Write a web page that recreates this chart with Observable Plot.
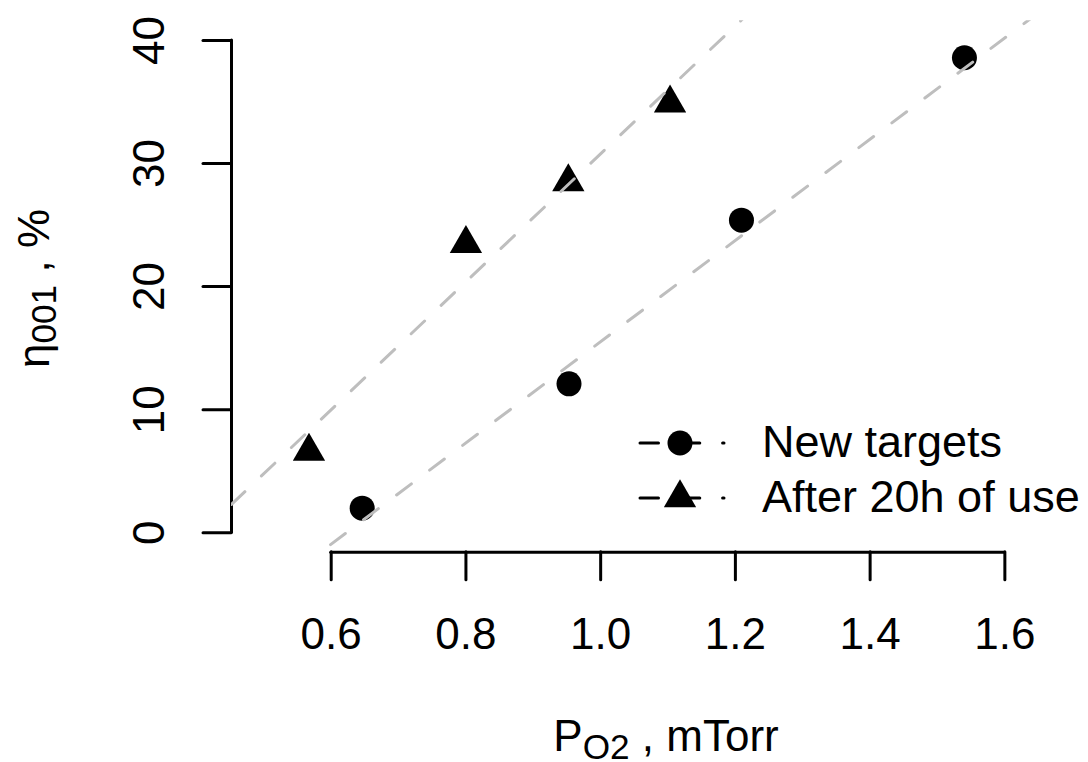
<!DOCTYPE html>
<html><head><meta charset="utf-8">
<script src="https://cdn.jsdelivr.net/npm/d3@7"></script>
<script src="https://cdn.jsdelivr.net/npm/@observablehq/plot@0.6"></script>
<style>html,body{margin:0;padding:0;background:#fff} svg{display:block}</style>
</head><body><div id="chart"></div>
<script>
// ---- data ----
const newX = [0.646, 0.953, 1.209, 1.540];
const newY = [2.0, 12.1, 25.4, 38.6];
const usedX = [0.567, 0.800, 0.952, 1.103];
const usedY = [6.6, 23.5, 28.5, 34.9];
const fitNew = [-25.6, 41.13];   // intercept, slope
const fitUsed = [-21.2, 52.0];
const xTicks = [0.6, 0.8, 1.0, 1.2, 1.4, 1.6];
const xTickLabels = ["0.6", "0.8", "1.0", "1.2", "1.4", "1.6"];
const yTicks = [0, 10, 20, 30, 40];
const yTickLabels = ["0", "10", "20", "30", "40"];
const seriesNames = ["New targets", "After 20h of use"];
const xDomain = [0.452, 1.644];
const yDomain = [-1.58, 41.6];

const font = "'Liberation Sans', Arial, Helvetica, sans-serif";
const FS = 44;
const gray = "#BEBEBE";
const dash = "18.5,22.8";

const ptsNew = newX.map((x, i) => ({x, y: newY[i]}));
const ptsUsed = usedX.map((x, i) => ({x, y: usedY[i]}));
const lineData = (fit) => xDomain.map(x => ({x, y: fit[0] + fit[1] * x}));

const plot = Plot.plot({
  width: 1088, height: 762,
  marginLeft: 231, marginRight: 54, marginTop: 20.3, marginBottom: 210.3,
  style: {fontFamily: font, background: "white", color: "black", overflow: "visible"},
  x: {domain: xDomain, label: null},
  y: {domain: yDomain, label: null},
  marks: [
    Plot.ruleY([yDomain[0]], {x1: xTicks[0], x2: xTicks[xTicks.length - 1], stroke: "black", strokeWidth: 3, strokeLinecap: "round"}),
    Plot.ruleX([xDomain[0]], {y1: yTicks[0], y2: yTicks[yTicks.length - 1], stroke: "black", strokeWidth: 3, strokeLinecap: "round"}),
    Plot.axisX({ticks: xTicks, label: null, tickSize: 28, tickPadding: 38, tickFormat: d => xTickLabels[xTicks.indexOf(d)],
      fontSize: FS, stroke: "black", strokeWidth: 3, strokeLinecap: "round", fill: "black"}),
    Plot.axisY({ticks: yTicks, label: null, tickSize: 28, tickFormat: () => "", stroke: "black", strokeWidth: 3, strokeLinecap: "round"}),
    Plot.text(yTicks, {y: d => d, text: (d, i) => yTickLabels[i], frameAnchor: "left", dx: -82, rotate: -90,
      lineAnchor: "middle", textAnchor: "middle", fontSize: FS, fill: "black"}),
    Plot.dot(ptsNew, {x: "x", y: "y", r: 12.5, fill: "black", symbol: "circle"}),
    Plot.dot(ptsUsed, {x: "x", y: "y", r: 12, fill: "black", symbol: "triangle"}),
    Plot.line(lineData(fitNew), {x: "x", y: "y", stroke: gray, strokeWidth: 3, strokeDasharray: dash, strokeLinecap: "round", clip: true}),
    Plot.line(lineData(fitUsed), {x: "x", y: "y", stroke: gray, strokeWidth: 3, strokeDasharray: dash, strokeLinecap: "round", clip: true})
  ]
});
document.getElementById("chart").appendChild(plot);

const svg = d3.select(plot);
// axis titles
const xt = svg.append("text").attr("x", 666).attr("y", 751).attr("text-anchor", "middle")
  .attr("font-family", font).attr("font-size", FS).attr("fill", "black");
xt.append("tspan").text("P");
xt.append("tspan").attr("font-size", FS * 0.8).attr("dy", 8).text("O2");
xt.append("tspan").attr("dy", -8).text(" , mTorr");

const yt = svg.append("text").attr("transform", "translate(49,288.5) rotate(-90)").attr("text-anchor", "middle")
  .attr("font-family", font).attr("font-size", FS).attr("fill", "black");
yt.append("tspan").text("η");
yt.append("tspan").attr("font-size", FS * 0.8).attr("dy", 7).text("001");
yt.append("tspan").attr("dy", -7).text(" , %");

// legend
const rows = [443, 498];
const LFS = 45;
const lg = svg.append("g");
rows.forEach((ry, i) => {
  lg.append("line").attr("x1", 640).attr("x2", 724).attr("y1", ry).attr("y2", ry)
    .attr("stroke", "black").attr("stroke-width", 3).attr("stroke-dasharray", dash).attr("stroke-linecap", "round");
  const sym = i === 0 ? d3.symbolCircle : d3.symbolTriangle;
  const size = i === 0 ? Math.PI * 12.5 * 12.5 : Math.PI * 12 * 12;
  lg.append("path").attr("d", d3.symbol(sym, size)()).attr("transform", `translate(680,${ry})`).attr("fill", "black");
  lg.append("text").attr("x", 762).attr("y", ry + 0.32 * LFS).attr("text-anchor", "start").attr("font-family", font).attr("font-size", LFS)
    .attr("fill", "black").text(seriesNames[i]);
});
</script>
</body></html>
